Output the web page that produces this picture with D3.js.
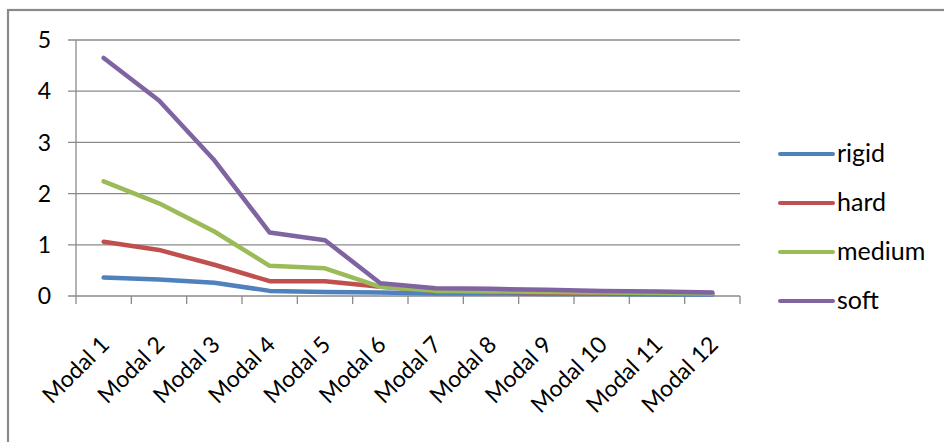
<!DOCTYPE html>
<html>
<head>
<meta charset="utf-8">
<script src="https://cdn.jsdelivr.net/npm/d3@7"></script>
<style>
  html, body { margin: 0; padding: 0; background: #fff; }
  svg { display: block; }
  text { font-family: Lato, "Open Sans", sans-serif; fill: #000; }
</style>
</head>
<body>
<svg id="chart" width="944" height="442"></svg>
<script>
const categories = ["Modal 1","Modal 2","Modal 3","Modal 4","Modal 5","Modal 6","Modal 7","Modal 8","Modal 9","Modal 10","Modal 11","Modal 12"];
const seriesNames = ["rigid","hard","medium","soft"];
const rigid  = [0.36, 0.32, 0.26, 0.10, 0.08, 0.07, 0.05, 0.05, 0.04, 0.04, 0.03, 0.03];
const hard   = [1.06, 0.90, 0.61, 0.29, 0.29, 0.18, 0.10, 0.08, 0.07, 0.06, 0.05, 0.05];
const medium = [2.24, 1.81, 1.26, 0.59, 0.54, 0.18, 0.10, 0.09, 0.08, 0.07, 0.06, 0.05];
const soft   = [4.65, 3.82, 2.65, 1.24, 1.09, 0.25, 0.15, 0.14, 0.12, 0.10, 0.09, 0.07];
const yTicks = [0, 1, 2, 3, 4, 5];
const colors = ["#4F81BD", "#C0504D", "#9BBB59", "#8064A2"];

const series = [rigid, hard, medium, soft];

const svg = d3.select("#chart");
const mLeft = 76, mRight = 740, mTop = 40, mBottom = 296;

// outer border
svg.append("rect")
  .attr("x", 8).attr("y", 10).attr("width", 1000).attr("height", 1000)
  .attr("fill", "none").attr("stroke", "#8a8a8a").attr("stroke-width", 2.2);

const x = d3.scaleBand().domain(categories).range([mLeft, mRight]).paddingInner(0).paddingOuter(0);
const y = d3.scaleLinear().domain([0, 5]).range([mBottom, mTop]);

// gridlines
svg.append("g").selectAll("line").data(yTicks).join("line")
  .attr("x1", mLeft - 8).attr("x2", mRight)
  .attr("y1", d => y(d)).attr("y2", d => y(d))
  .attr("stroke", "#8a8a8a").attr("stroke-width", 1.3);

// y axis line
svg.append("line").attr("x1", mLeft).attr("x2", mLeft).attr("y1", mTop).attr("y2", mBottom)
  .attr("stroke", "#8a8a8a").attr("stroke-width", 1.3);

// y labels
svg.append("g").selectAll("text").data(yTicks).join("text")
  .attr("x", 51).attr("y", d => y(d))
  .attr("dy", "0.36em")
  .attr("text-anchor", "end")
  .style("font-size", "23px")
  .text(d => d);

// x ticks at band boundaries
const boundaries = categories.map(c => x(c)).concat([x(categories[categories.length-1]) + x.bandwidth()]);
svg.append("g").selectAll("line").data(boundaries).join("line")
  .attr("x1", d => d).attr("x2", d => d).attr("y1", mBottom).attr("y2", mBottom + 8)
  .attr("stroke", "#8a8a8a").attr("stroke-width", 1.3);

// x labels
svg.append("g").selectAll("text").data(categories).join("text")
  .attr("transform", d => `translate(${x(d) + x.bandwidth()/2 + 7},${mBottom + 50}) rotate(-45)`)
  .attr("text-anchor", "end")
  .style("font-size", "23px")
  .text(d => d);

// lines
const line = d3.line()
  .x((d, i) => x(categories[i]) + x.bandwidth() / 2)
  .y(d => y(d));

svg.append("g").selectAll("path").data(series).join("path")
  .attr("d", d => line(d))
  .attr("fill", "none")
  .attr("stroke", (d, i) => colors[i])
  .attr("stroke-width", 4.5)
  .attr("stroke-linejoin", "round")
  .attr("stroke-linecap", "round");

// legend
const lg = svg.append("g").selectAll("g").data(seriesNames).join("g")
  .attr("transform", (d, i) => `translate(780,${154 + i * 49})`);
lg.append("line").attr("x1", 0).attr("x2", 53).attr("y1", 0).attr("y2", 0)
  .attr("stroke", (d, i) => colors[i]).attr("stroke-width", 4).attr("stroke-linecap", "round");
lg.append("text").attr("x", 57).attr("y", 8)
  .style("font-size", "25px")
  .text(d => d);
</script>
</body>
</html>
